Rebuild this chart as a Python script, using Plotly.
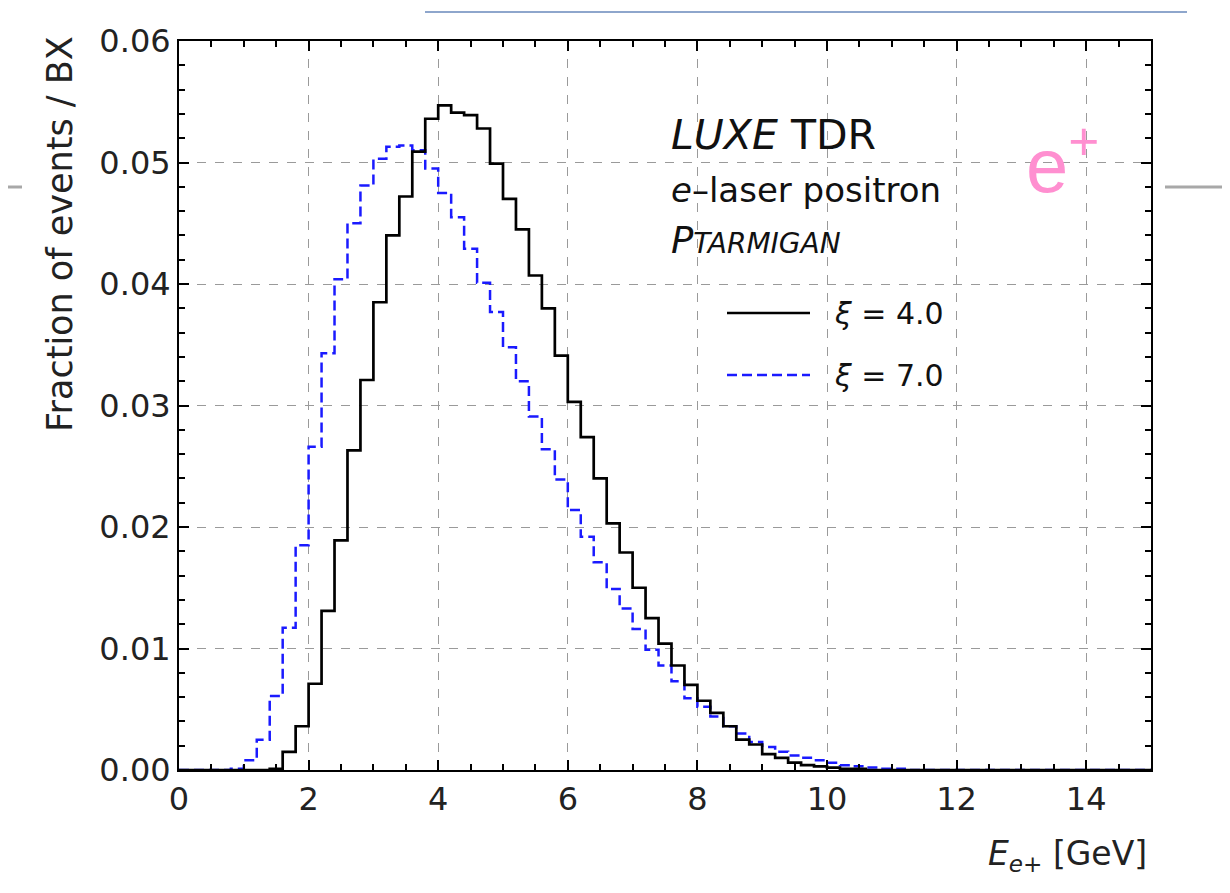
import numpy as np
import plotly.graph_objects as go

# ---- data: fraction of events per 0.2 GeV bin, bins from 0 to 15 GeV ----
bin_width = 0.2
bin_centers = np.round(np.arange(0.1, 15.0, bin_width), 2)

# xi = 4.0 (black, solid)
xi4_values = [
    0.0, 0.0, 0.0, 0.0, 0.0,                   # 0.0-1.0
    0.0, 0.0, 0.0001, 0.0015, 0.0036,          # 1.0-2.0
    0.0071, 0.0131, 0.0189, 0.0263, 0.0321,    # 2.0-3.0
    0.0385, 0.0440, 0.0472, 0.0509, 0.0536,    # 3.0-4.0
    0.0547, 0.0541, 0.0539, 0.0528, 0.0499,    # 4.0-5.0
    0.0470, 0.0445, 0.0407, 0.0380, 0.0341,    # 5.0-6.0
    0.0303, 0.0274, 0.0240, 0.0203, 0.0179,    # 6.0-7.0
    0.0150, 0.0125, 0.0104, 0.0086, 0.0070,    # 7.0-8.0
    0.0057, 0.0047, 0.0036, 0.0025, 0.0021,    # 8.0-9.0
    0.0013, 0.0010, 0.0006, 0.0004, 0.0003,    # 9.0-10.0
    0.0002, 0.0001, 0.0001, 0.0, 0.0,          # 10.0-11.0
    0.0, 0.0, 0.0, 0.0, 0.0,                   # 11.0-12.0
    0.0, 0.0, 0.0, 0.0, 0.0,                   # 12.0-13.0
    0.0, 0.0, 0.0, 0.0, 0.0,                   # 13.0-14.0
    0.0, 0.0, 0.0, 0.0, 0.0,                   # 14.0-15.0
]

# xi = 7.0 (blue, dashed)
xi7_values = [
    0.0, 0.0, 0.0, 0.0, 0.0001,                # 0.0-1.0
    0.0008, 0.0025, 0.0061, 0.0117, 0.0185,    # 1.0-2.0
    0.0266, 0.0343, 0.0404, 0.0450, 0.0481,    # 2.0-3.0
    0.0503, 0.0513, 0.0514, 0.0510, 0.0495,    # 3.0-4.0
    0.0475, 0.0455, 0.0429, 0.0401, 0.0377,    # 4.0-5.0
    0.0348, 0.0320, 0.0291, 0.0264, 0.0239,    # 5.0-6.0
    0.0214, 0.0192, 0.0171, 0.0149, 0.0133,    # 6.0-7.0
    0.0116, 0.0099, 0.0086, 0.0073, 0.0059,    # 7.0-8.0
    0.0052, 0.0044, 0.0036, 0.0030, 0.0023,    # 8.0-9.0
    0.0019, 0.0015, 0.0012, 0.0010, 0.0008,    # 9.0-10.0
    0.0006, 0.0004, 0.0003, 0.0002, 0.0001,    # 10.0-11.0
    0.0001, 0.0, 0.0, 0.0, 0.0,                # 11.0-12.0
    0.0, 0.0, 0.0, 0.0, 0.0,                   # 12.0-13.0
    0.0, 0.0, 0.0, 0.0, 0.0,                   # 13.0-14.0
    0.0, 0.0, 0.0, 0.0, 0.0,                   # 14.0-15.0
]

series_names = ["ξ = 4.0", "ξ = 7.0"]
x_tick_vals = [0, 2, 4, 6, 8, 10, 12, 14]
y_tick_vals = [0.00, 0.01, 0.02, 0.03, 0.04, 0.05, 0.06]


def steps(vals):
    xs = [0.0] + list(bin_centers) + [15.0]
    ys = [vals[0]] + list(vals) + [vals[-1]]
    return xs, ys


FONT = "DejaVu Sans, Liberation Sans, Arial, sans-serif"
BLUE = "#1a1aff"

fig = go.Figure()
x7, y7 = steps(xi7_values)
fig.add_trace(go.Scatter(x=x7, y=y7, mode="lines", line_shape="hvh",
                         line=dict(color=BLUE, width=2.5, dash="10px,5px"),
                         name=series_names[1], showlegend=False))
x4, y4 = steps(xi4_values)
fig.add_trace(go.Scatter(x=x4, y=y4, mode="lines", line_shape="hvh",
                         line=dict(color="black", width=2.7),
                         name=series_names[0], showlegend=False))

axis_common = dict(
    showline=True, linecolor="black", linewidth=2, mirror="allticks",
    ticks="inside", ticklen=10, tickwidth=1.5, tickcolor="black",
    showgrid=True, gridcolor="#9a9a9a", gridwidth=1.3, griddash="dash",
    zeroline=False,
    tickfont=dict(family=FONT, size=32, color="#222"),
)
fig.update_xaxes(range=[0, 15], tickvals=x_tick_vals, ticktext=[str(v) for v in x_tick_vals],
                 minor=dict(dtick=0.5, ticks="inside", ticklen=6, tickcolor="black", showgrid=False),
                 **axis_common)
fig.update_yaxes(range=[0, 0.06], tickvals=y_tick_vals, tickformat=".2f",
                 minor=dict(dtick=0.002, ticks="inside", ticklen=6, tickcolor="black", showgrid=False),
                 **axis_common)

# screen-pixel helpers (plot area spans x 179..1151, y 41..770 on screen)
def px_x(px):
    return (px - 179) / 972.0


def px_y(py):
    return (770 - py) / 729.0


annotations = [
    dict(text="Fraction of events / BX", textangle=-90, x=px_x(60), y=px_y(234),
         xanchor="center", yanchor="middle",
         font=dict(size=35, family=FONT, color="#222")),
    dict(text="<i>E</i><sub><i>e+</i></sub> [GeV]", x=px_x(1149), y=px_y(855),
         xanchor="right", yanchor="middle",
         font=dict(size=33, family=FONT, color="#222")),
    dict(text="<i>LUXE</i> TDR", x=px_x(669), y=px_y(135), xanchor="left", yanchor="middle",
         font=dict(size=41, family=FONT, color="#111")),
    dict(text="<i>e</i>–laser positron", x=px_x(669), y=px_y(190), xanchor="left", yanchor="middle",
         font=dict(size=34, family=FONT, color="#111")),
    dict(text="<i>P<span style='font-size:28px'>TARMIGAN</span></i>", x=px_x(669), y=px_y(240),
         xanchor="left", yanchor="middle", font=dict(size=37, family=FONT, color="#111")),
    dict(text="<i>ξ</i> = 4.0", x=px_x(832), y=px_y(313), xanchor="left", yanchor="middle",
         font=dict(size=30, family=FONT, color="#111")),
    dict(text="<i>ξ</i> = 7.0", x=px_x(832), y=px_y(375), xanchor="left", yanchor="middle",
         font=dict(size=30, family=FONT, color="#111")),
    dict(text="e<sup>+</sup>", x=px_x(1062), y=px_y(160), xanchor="center", yanchor="middle",
         font=dict(size=76, family="Liberation Sans, Arial, sans-serif", color="#ff8fd0")),
]
for a in annotations:
    a.update(xref="paper", yref="paper", showarrow=False)

shapes = [
    dict(type="line", xref="paper", yref="paper", x0=px_x(727), x1=px_x(810),
         y0=px_y(313), y1=px_y(313), line=dict(color="black", width=2.7)),
    dict(type="line", xref="paper", yref="paper", x0=px_x(727), x1=px_x(810),
         y0=px_y(375), y1=px_y(375), line=dict(color=BLUE, width=2.5, dash="10px,5px")),
    dict(type="line", xref="paper", yref="paper", x0=px_x(425), x1=px_x(1187),
         y0=px_y(12), y1=px_y(12), line=dict(color="#8ea6cc", width=2)),
    dict(type="line", xref="paper", yref="paper", x0=px_x(0), x1=px_x(22),
         y0=px_y(187), y1=px_y(187), line=dict(color="#a8a8a8", width=3)),
    dict(type="line", xref="paper", yref="paper", x0=px_x(1165), x1=px_x(1230),
         y0=px_y(187), y1=px_y(187), line=dict(color="#a8a8a8", width=3)),
]

# the page body adds an ~8 px offset, so the figure is 8 px smaller and margins shifted
fig.update_layout(
    width=1222, height=885,
    margin=dict(l=171, r=79, t=33, b=123),
    paper_bgcolor="white", plot_bgcolor="white",
    annotations=annotations, shapes=shapes,
    showlegend=False,
)

fig.write_html("out.html")
